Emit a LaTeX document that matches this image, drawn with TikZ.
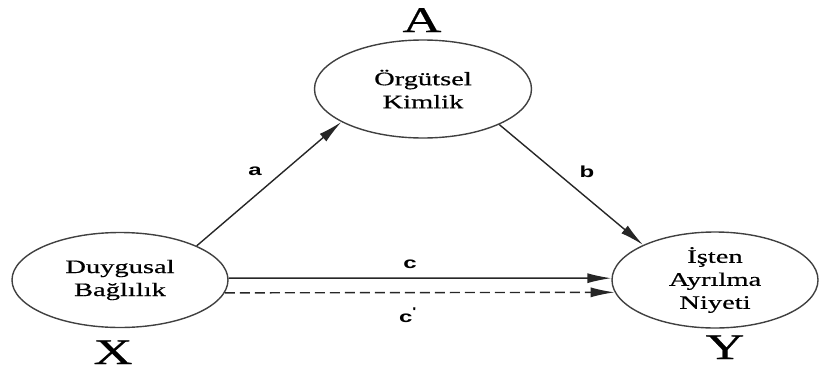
\documentclass[tikz,border=0pt]{standalone}
\usepackage{fontspec}
\setmainfont{Liberation Serif}[FakeStretch=1.5,FakeBold=0.6]
\newfontfamily\labelfont{Liberation Sans}[FakeStretch=1.5]
\usetikzlibrary{arrows.meta,shapes.geometric}

\begin{document}
\begin{tikzpicture}[
  x=1pt,y=-1pt,
  line/.style={line width=1.4pt,draw=black!85,-{Latex[length=24pt,width=10pt]}},
  dashed line/.style={line,dash pattern=on 10pt off 5pt},
  construct/.style={ellipse,draw=black!75,line width=1.4pt,inner sep=0pt,align=center,font=\fontsize{19}{23}\selectfont},
  var/.style={anchor=base,font=\fontsize{36}{40}\selectfont},
  path label/.style={anchor=base,font=\labelfont\bfseries\fontsize{16}{18}\selectfont}
]
\useasboundingbox (0,0) rectangle (819,372);
% constructs
\node[construct,minimum width=217pt,minimum height=98pt] (kimlik) at (423,89) {Örgütsel\\Kimlik};
\node[construct,minimum width=216pt,minimum height=95pt] (bag) at (120,280) {Duygusal\\Bağlılık};
\node[construct,minimum width=206pt,minimum height=96pt] (niyet) at (715,280) {İşten\\Ayrılma\\Niyeti};
% variable letters
\node[var] (A) at (422,32) {A};
\node[var] (X) at (113,364) {X};
\node[var] (Y) at (725,359) {Y};
% paths
\draw[line] (bag.24) -- (kimlik.202);
\draw[line] (kimlik.335) -- (niyet.154);
\draw[line] (bag.1) -- (niyet.179);
\draw[dashed line] (bag.-7) -- (niyet.187);
\node[path label] (pa) at (255,175) {a};
\node[path label] (pb) at (587,177) {b};
\node[path label] (pc) at (410,268) {c};
\node[path label] (pcc) at (408,322) {c\textsuperscript{'}};
\end{tikzpicture}
\end{document}
